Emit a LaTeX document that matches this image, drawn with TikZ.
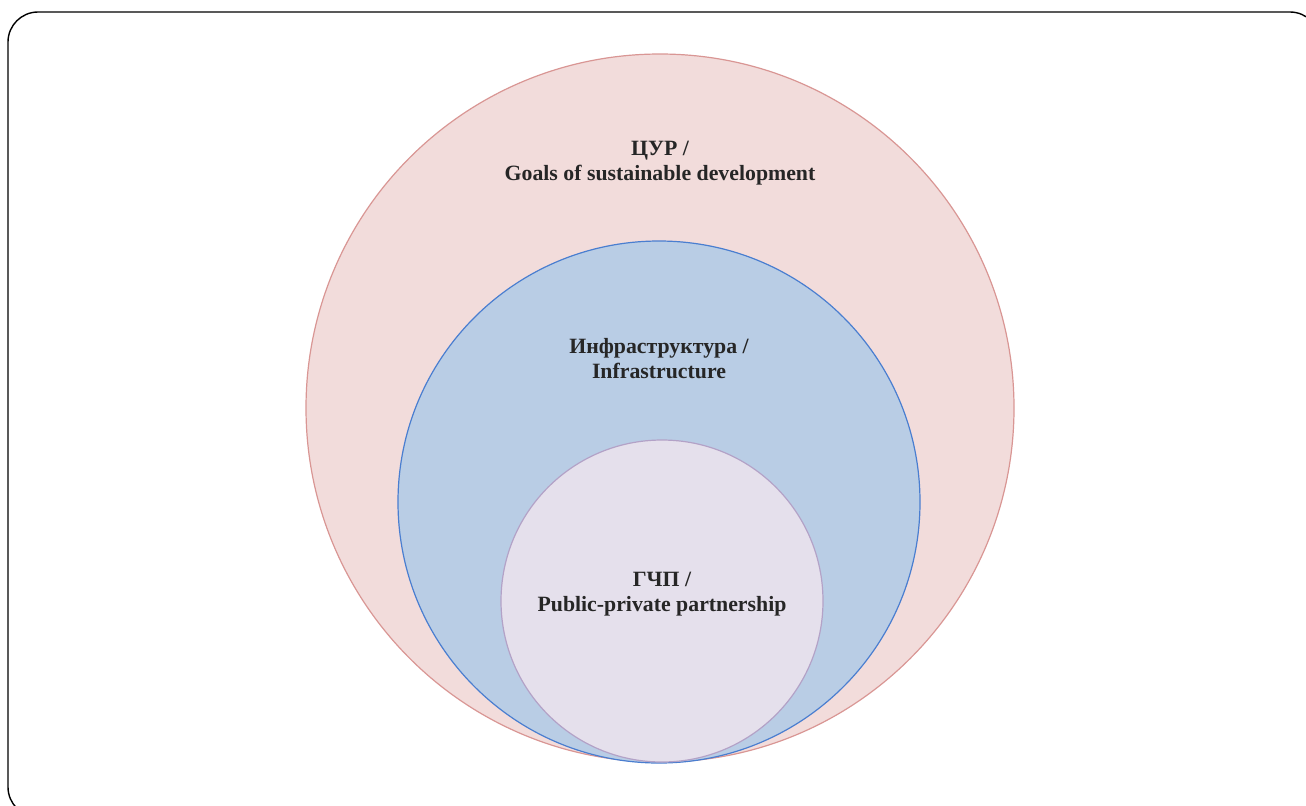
\documentclass[tikz,border=0pt]{standalone}
\usepackage{fontspec}
\setmainfont{Liberation Serif}
\usetikzlibrary{positioning}

\definecolor{goalfill}{RGB}{242,220,219}
\definecolor{goaldraw}{RGB}{217,150,148}
\definecolor{infrafill}{RGB}{185,205,229}
\definecolor{infradraw}{RGB}{74,126,208}
\definecolor{pppfill}{RGB}{229,224,236}
\definecolor{pppdraw}{RGB}{179,162,199}

\begin{document}
\begin{tikzpicture}[x=0.5pt,y=-0.5pt]

\tikzset{ringnode/.style={shape=circle,inner sep=0pt,line width=0.6pt},
goalcircle/.style={ringnode,fill=goalfill,draw=goaldraw,minimum size=354pt},
infracircle/.style={ringnode,fill=infrafill,draw=infradraw,minimum size=261pt},
pppcircle/.style={ringnode,fill=pppfill,draw=pppdraw,minimum size=161pt},
labeltext/.style={font=\fontsize{10.9}{12.5}\selectfont\bfseries,text=black!85,align=center,inner sep=0pt}}

\useasboundingbox (0,0) rectangle (1306,805);

% Frame
\draw[line width=0.7pt,rounded corners=15pt] (8,12) rectangle (1320,817);

% Circles
\node (c1) [goalcircle] at (660,408) {};
\node (c2) [infracircle] at (659,502) {};
\node (c3) [pppcircle] at (662,601) {};

% Labels
\node (goalLabel) [labeltext] at (660,163) {ЦУР /\\Goals of sustainable development};
\node (infraLabel) [labeltext] at (659,359) {Инфраструктура /\\Infrastructure};
\node (pppLabel) [labeltext] at (662,594) {ГЧП /\\Public-private partnership};

\end{tikzpicture}
\end{document}
